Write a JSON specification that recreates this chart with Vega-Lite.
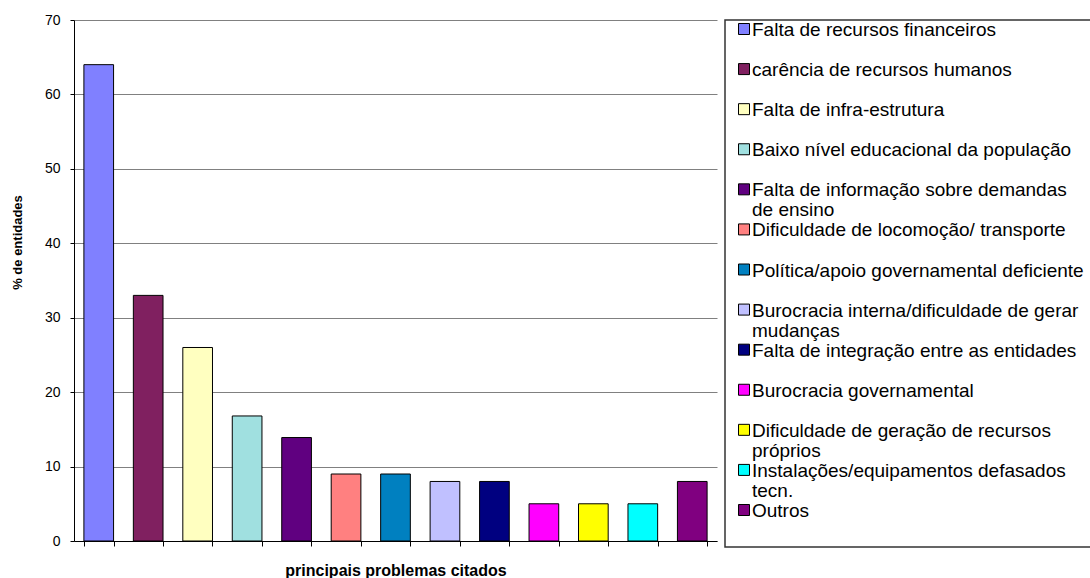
{
  "$schema": "https://vega.github.io/schema/vega-lite/v6.json",
  "background": "white",
  "autosize": {"type": "pad"},
  "padding": {"left": 11, "top": 13, "right": 0, "bottom": 0},
  "spacing": 7,
  "config": {
    "font": "Liberation Sans",
    "view": {"stroke": null},
    "axis": {"labelColor": "#000", "titleColor": "#000", "labelFont": "Liberation Sans", "titleFont": "Liberation Sans"}
  },
  "datasets": {
    "problemas": [
      {"i": 0, "problema": "Falta de recursos financeiros", "rotulo": "Falta de recursos financeiros", "pct": 64},
      {"i": 1, "problema": "carência de recursos humanos", "rotulo": "carência de recursos humanos", "pct": 33},
      {"i": 2, "problema": "Falta de infra-estrutura", "rotulo": "Falta de infra-estrutura", "pct": 26},
      {"i": 3, "problema": "Baixo nível educacional da população", "rotulo": "Baixo nível educacional da população", "pct": 16.8},
      {"i": 4, "problema": "Falta de informação sobre demandas de ensino", "rotulo": "Falta de informação sobre demandas\nde ensino", "pct": 13.9},
      {"i": 5, "problema": "Dificuldade de locomoção/ transporte", "rotulo": "Dificuldade de locomoção/ transporte", "pct": 9},
      {"i": 6, "problema": "Política/apoio governamental deficiente", "rotulo": "Política/apoio governamental deficiente", "pct": 9},
      {"i": 7, "problema": "Burocracia interna/dificuldade de gerar mudanças", "rotulo": "Burocracia interna/dificuldade de gerar\nmudanças", "pct": 8},
      {"i": 8, "problema": "Falta de integração entre as entidades", "rotulo": "Falta de integração entre as entidades", "pct": 8},
      {"i": 9, "problema": "Burocracia governamental", "rotulo": "Burocracia governamental", "pct": 5},
      {"i": 10, "problema": "Dificuldade de geração de recursos próprios", "rotulo": "Dificuldade de geração de recursos\npróprios", "pct": 5},
      {"i": 11, "problema": "Instalações/equipamentos defasados tecn.", "rotulo": "Instalações/equipamentos  defasados\ntecn.", "pct": 5},
      {"i": 12, "problema": "Outros", "rotulo": "Outros", "pct": 8}
    ]
  },
  "hconcat": [
    {
      "width": 643,
      "height": 521,
      "data": {"name": "problemas"},
      "mark": {"type": "bar", "stroke": "#000", "strokeWidth": 1},
      "encoding": {
        "x": {
          "field": "problema",
          "type": "nominal",
          "sort": {"field": "i"},
          "scale": {"paddingInner": 0.4, "paddingOuter": 0.2},
          "axis": {
            "labels": false,
            "tickBand": "extent",
            "tickSize": 5,
            "tickColor": "#000",
            "domainColor": "#000",
            "title": "principais problemas citados",
            "titleFontSize": 16,
            "titleFontWeight": "bold",
            "titlePadding": 16
          }
        },
        "y": {
          "field": "pct",
          "type": "quantitative",
          "scale": {"domain": [0, 70], "nice": false},
          "axis": {
            "values": [0, 10, 20, 30, 40, 50, 60, 70],
            "title": "% de entidades",
            "titleFontSize": 13,
            "titleFontWeight": "bold",
            "titleY": 222,
            "titlePadding": 20,
            "labelFontSize": 14,
            "labelPadding": 10,
            "tickSize": 4,
            "tickColor": "#000",
            "domainColor": "#000",
            "gridColor": "#808080",
            "gridOpacity": 1
          }
        },
        "color": {
          "field": "problema",
          "type": "nominal",
          "scale": {
            "domain": ["Falta de recursos financeiros", "carência de recursos humanos", "Falta de infra-estrutura", "Baixo nível educacional da população", "Falta de informação sobre demandas de ensino", "Dificuldade de locomoção/ transporte", "Política/apoio governamental deficiente", "Burocracia interna/dificuldade de gerar mudanças", "Falta de integração entre as entidades", "Burocracia governamental", "Dificuldade de geração de recursos próprios", "Instalações/equipamentos defasados tecn.", "Outros"],
            "range": ["#8080FF", "#802060", "#FFFFC0", "#A0E0E0", "#600080", "#FF8080", "#0080C0", "#C0C0FF", "#000080", "#FF00FF", "#FFFF00", "#00FFFF", "#800080"]
          },
          "legend": null
        }
      }
    },
    {
      "width": 375,
      "height": 527,
      "view": {"stroke": "#333", "strokeWidth": 1.5},
      "data": {"name": "problemas"},
      "encoding": {
        "y": {
          "field": "i",
          "type": "quantitative",
          "scale": {"domain": [0, 12], "range": [9, 490], "zero": false, "nice": false},
          "axis": null
        },
        "x": {
          "datum": 0,
          "type": "quantitative",
          "scale": {"domain": [-19, 356], "nice": false, "zero": false},
          "axis": null
        }
      },
      "layer": [
        {
          "mark": {"type": "square", "size": 121, "filled": true, "opacity": 1, "stroke": "#000", "strokeWidth": 1},
          "encoding": {
            "color": {"field": "problema", "type": "nominal", "legend": null}
          }
        },
        {
          "mark": {"type": "text", "align": "left", "baseline": "alphabetic", "dx": 8, "dy": 7, "fontSize": 19, "lineHeight": 20, "lineBreak": "\n", "color": "#000", "font": "Liberation Sans"},
          "encoding": {
            "text": {"field": "rotulo", "type": "nominal"}
          }
        }
      ]
    }
  ]
}
